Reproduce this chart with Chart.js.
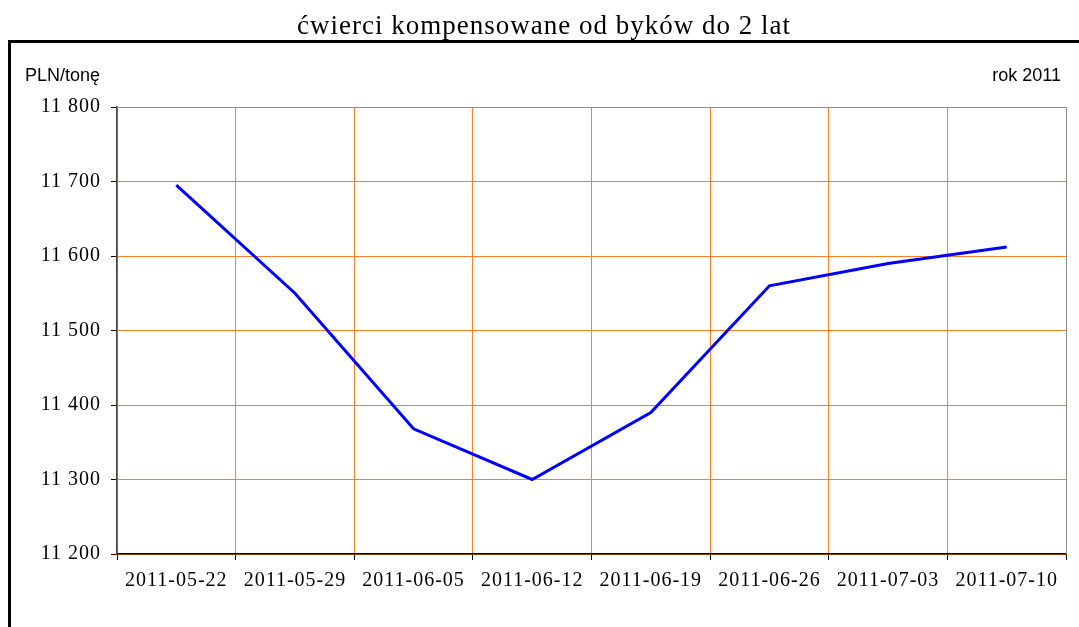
<!DOCTYPE html>
<html lang="pl">
<head>
  <meta charset="UTF-8" />
  <title>ćwierci kompensowane od byków do 2 lat</title>
  <script src="https://cdn.jsdelivr.net/npm/chart.js"></script>
  <style>
    html, body { margin: 0; padding: 0; background: #fff; }
    #wrap { width: 1079px; height: 627px; position: relative; }
  </style>
</head>
<body>
  <div id="wrap"><canvas id="priceChart" width="1079" height="627"></canvas></div>

  <script>
    // data
    const weeks = ['2011-05-22', '2011-05-29', '2011-06-05', '2011-06-12', '2011-06-19', '2011-06-26', '2011-07-03', '2011-07-10'];
    const prices = [11695, 11550, 11368, 11300, 11390, 11560, 11590, 11612];
    const yMin = 11200, yMax = 11800, yStep = 100;

    const titleText = 'ćwierci kompensowane od byków do 2 lat';
    const unitText = 'PLN/tonę';
    const yearText = 'rok 2011';

    const orange = '#FF7F27';
    const serif = '"Liberation Serif", "DejaVu Serif", serif';
    const sans = '"Liberation Sans", Arial, sans-serif';

    // the serif text in the original is a little spread out
    const spacing = {
      id: 'spacing',
      beforeDraw(chart) { chart.ctx.letterSpacing = '1px'; }
    };

    // frame, title and corner labels
    const decor = {
      id: 'decor',
      beforeDatasetsDraw(chart) {
        const { ctx, chartArea: a } = chart;
        ctx.save();
        ctx.strokeStyle = '#8c8c8c';
        ctx.lineWidth = 1;
        ctx.beginPath();
        ctx.moveTo(a.left, a.top + 0.5);
        ctx.lineTo(a.right + 0.5, a.top + 0.5);
        ctx.lineTo(a.right + 0.5, a.bottom);
        ctx.stroke();
        ctx.restore();
      },
      afterDraw(chart) {
        const { ctx } = chart;
        ctx.save();
        ctx.strokeStyle = '#000';
        ctx.lineWidth = 3;
        ctx.beginPath();
        ctx.moveTo(9.5, 627);
        ctx.lineTo(9.5, 41.5);
        ctx.lineTo(1079, 41.5);
        ctx.stroke();

        ctx.fillStyle = '#000';
        ctx.textBaseline = 'alphabetic';
        ctx.letterSpacing = '1px';
        ctx.font = '27px ' + serif;
        ctx.textAlign = 'center';
        ctx.fillText(titleText, 544, 34);

        ctx.letterSpacing = '0px';
        ctx.font = '18px ' + sans;
        ctx.textAlign = 'left';
        ctx.fillText(unitText, 25, 81);
        ctx.textAlign = 'right';
        ctx.fillText(yearText, 1061, 81);
        ctx.restore();
      }
    };

    new Chart(document.getElementById('priceChart'), {
      type: 'line',
      data: {
        labels: weeks,
        datasets: [{
          data: prices,
          borderColor: '#0000FF',
          borderWidth: 3,
          pointRadius: 0,
          tension: 0,
          fill: false
        }]
      },
      options: {
        responsive: false,
        animation: false,
        layout: { padding: { top: 107, right: 13, left: 0, bottom: 0 } },
        plugins: {
          legend: { display: false },
          tooltip: { enabled: false }
        },
        scales: {
          x: {
            offset: true,
            grid: {
              offset: true,
              color: orange,
              lineWidth: 1,
              drawTicks: true,
              tickLength: 6,
              tickColor: '#000'
            },
            border: { color: '#000', width: 1.5 },
            ticks: {
              color: '#000',
              padding: 9,
              maxRotation: 0,
              autoSkip: false,
              font: { family: serif, size: 20 }
            },
            afterFit(scale) { scale.height = 627 - 554; }
          },
          y: {
            min: yMin,
            max: yMax,
            grid: {
              color: (c) => (c.tick && c.tick.value === yMax ? 'rgba(0,0,0,0)' : orange),
              lineWidth: 1,
              tickLength: 6,
              tickColor: '#000'
            },
            border: { color: '#444', width: 1.5 },
            ticks: {
              stepSize: yStep,
              color: '#000',
              padding: 10,
              font: { family: serif, size: 20 },
              callback: (v) => String(v).replace(/\B(?=(\d{3})+(?!\d))/g, ' ')
            },
            afterFit(scale) { scale.width = 117; }
          }
        }
      },
      plugins: [spacing, decor]
    });
  </script>
</body>
</html>
